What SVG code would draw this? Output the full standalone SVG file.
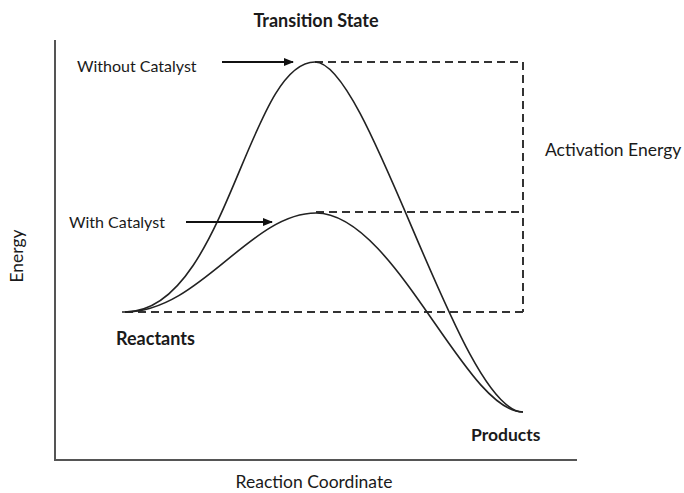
<svg xmlns="http://www.w3.org/2000/svg" width="684" height="493" viewBox="0 0 684 493">
<style>
text{font-family:Lato,"Liberation Sans",sans-serif;fill:#1a1a1a;font-size:16px}
.b{font-weight:bold;font-size:18px}
.l{font-size:17.5px}
.axis{stroke:#555;stroke-width:2;fill:none}
.curve{stroke:#222;stroke-width:1.6;fill:none}
.dash{stroke:#333;stroke-width:2;stroke-dasharray:8 5;fill:none}
.arrow{stroke:#111;stroke-width:2;fill:none}
</style>
<defs>
<marker id="ah" markerWidth="10" markerHeight="8" refX="9" refY="4" orient="auto" markerUnits="userSpaceOnUse">
<path d="M0,0 L10,4 L0,8 Z" fill="#111"/>
</marker>
</defs>
<g id="axes">
<path class="axis" d="M55,40 L55,460 L577,460"/>
</g>
<g id="connectors">
<path class="dash" d="M315,62 L523,62 L523,312"/>
<path class="dash" d="M316,212 L523,212"/>
<path class="dash" d="M125,312 L523,312"/>
<path class="curve" d="M122,312 L125,312 C226,312 248,62 315,62 C370,62 460,412 523,412"/>
<path class="curve" d="M125,312 C200,312 250,213 316,213 C395,213 465,412 523,412"/>
<path class="arrow" d="M222,62 L293,62" marker-end="url(#ah)"/>
<path class="arrow" d="M186,222 L272,222" marker-end="url(#ah)"/>
</g>
<g id="labels">
<text class="b" x="316" y="27" text-anchor="middle">Transition State</text>
<text x="77" y="72">Without Catalyst</text>
<text x="69" y="228">With Catalyst</text>
<text class="l" x="545" y="156">Activation Energy</text>
<text class="b" x="116" y="345">Reactants</text>
<text class="b" x="471" y="441" style="font-size:17.5px">Products</text>
<text class="l" x="314" y="488" text-anchor="middle">Reaction Coordinate</text>
<text class="l" x="23" y="256" text-anchor="middle" transform="rotate(-90 23 256)">Energy</text>
</g>
</svg>
